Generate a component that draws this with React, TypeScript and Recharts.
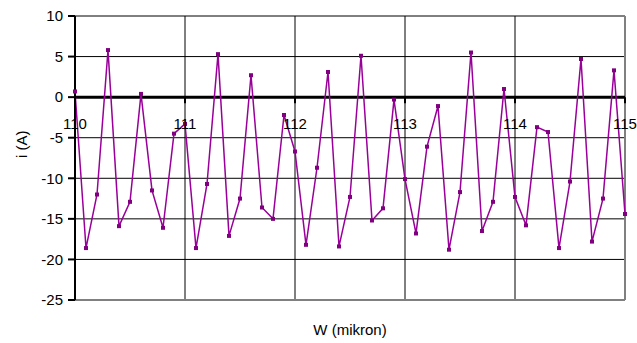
import { CartesianGrid, Line, LineChart, ReferenceDot, ReferenceLine, XAxis, YAxis } from "recharts";

const PURPLE = "#990099";
const MARKER = "#800080";
const FONT = "Arial, 'Liberation Sans', sans-serif";

const W = [
  110.0, 110.1, 110.2, 110.3, 110.4, 110.5, 110.6, 110.7, 110.8, 110.9,
  111.0, 111.1, 111.2, 111.3, 111.4, 111.5, 111.6, 111.7, 111.8, 111.9,
  112.0, 112.1, 112.2, 112.3, 112.4, 112.5, 112.6, 112.7, 112.8, 112.9,
  113.0, 113.1, 113.2, 113.3, 113.4, 113.5, 113.6, 113.7, 113.8, 113.9,
  114.0, 114.1, 114.2, 114.3, 114.4, 114.5, 114.6, 114.7, 114.8, 114.9,
  115.0,
];

const CURRENT = [
  0.7, -18.6, -12.0, 5.8, -15.9, -12.9, 0.4, -11.5, -16.1, -4.5,
  -3.3, -18.6, -10.7, 5.3, -17.1, -12.5, 2.7, -13.6, -15.0, -2.2,
  -6.7, -18.2, -8.7, 3.1, -18.4, -12.3, 5.1, -15.2, -13.7, -0.3,
  -10.1, -16.8, -6.1, -1.1, -18.8, -11.7, 5.5, -16.5, -12.9, 1.0,
  -12.3, -15.8, -3.7, -4.3, -18.6, -10.4, 4.7, -17.8, -12.5, 3.3,
  -14.4,
];

const X_TICKS = [110, 111, 112, 113, 114, 115];
const Y_TICKS = [-25, -20, -15, -10, -5, 0, 5, 10];

const data = W.map((w, i) => ({ w, i: CURRENT[i] }));

const SquareDot = (props: any) => {
  const { cx, cy, index } = props;
  if (cx == null || cy == null) return null;
  return <rect key={index} x={cx - 2} y={cy - 2} width={4} height={4} fill={MARKER} />;
};

const AxisTick = (label: number) => (props: any) => {
  const { cx, cy } = props;
  return (
    <g>
      <line x1={cx} y1={cy} x2={cx} y2={cy + 6} stroke="#000" strokeWidth={2} />
      <text x={cx} y={cy + 32} textAnchor="middle" fontSize={15} fontFamily={FONT} fill="#000">
        {label}
      </text>
    </g>
  );
};

export default function App() {
  return (
    <div style={{ position: "absolute", left: 0, top: 0, background: "#fff" }}>
      <LineChart width={637} height={343} data={data} margin={{ top: 16, right: 12, left: 0, bottom: 0 }}>
        <CartesianGrid stroke="#000" strokeWidth={1} vertical={false} horizontalValues={Y_TICKS} />
        <XAxis
          dataKey="w"
          type="number"
          domain={[110, 115]}
          ticks={X_TICKS}
          tick={false}
          tickLine={false}
          axisLine={{ stroke: "#808080", strokeWidth: 2 }}
          height={43}
          label={{ value: "W (mikron)", position: "insideBottom", offset: 8, fontSize: 15, fontFamily: FONT, fill: "#000" }}
        />
        <YAxis
          type="number"
          domain={[-25, 10]}
          ticks={Y_TICKS}
          width={75}
          axisLine={{ stroke: "#000", strokeWidth: 2 }}
          tickLine={{ stroke: "#000", strokeWidth: 2 }}
          tickSize={7}
          tickMargin={5}
          tick={{ fontSize: 15, fontFamily: FONT, fill: "#000" }}
          label={{ value: "i (A)", angle: -90, position: "insideLeft", offset: 22, fontSize: 15, fontFamily: FONT, fill: "#000" }}
        />
        {X_TICKS.slice(1, -1).map((t) => (
          <ReferenceLine key={`v${t}`} x={t} stroke="#000" strokeWidth={1} />
        ))}
        <ReferenceLine x={115} stroke="#808080" strokeWidth={2} />
        <ReferenceLine y={0} stroke="#000" strokeWidth={3} />
        <Line
          dataKey="i"
          stroke={PURPLE}
          strokeWidth={1.5}
          dot={<SquareDot />}
          activeDot={false}
          isAnimationActive={false}
        />
        {X_TICKS.map((t) => (
          <ReferenceDot key={t} x={t} y={0} r={0} ifOverflow="visible" shape={AxisTick(t)} />
        ))}
      </LineChart>
    </div>
  );
}
